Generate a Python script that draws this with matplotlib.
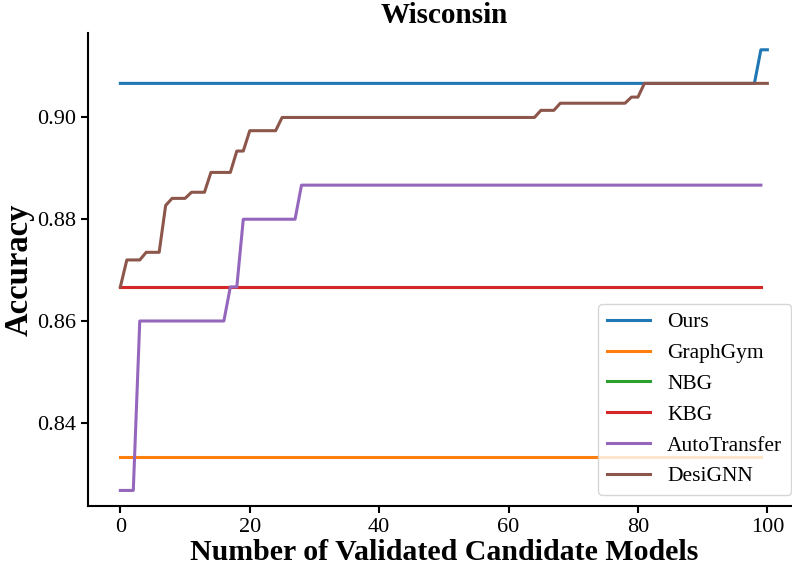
import numpy as np
import matplotlib.pyplot as plt

plt.rcParams["font.family"] = "serif"
plt.rcParams["font.serif"] = ["Liberation Serif", "DejaVu Serif"]
plt.rcParams["mathtext.fontset"] = "dejavuserif"

# step changes of the running best accuracy: (model index, accuracy)
ours_steps = [(0, 0.9067), (99, 0.9133)]
graphgym_steps = [(0, 0.8333)]
nbg_steps = [(0, 0.8667)]
kbg_steps = [(0, 0.8667)]
autotransfer_steps = [(0, 0.8267), (3, 0.8600), (17, 0.8667), (19, 0.8800), (28, 0.8867)]
designn_steps = [(0, 0.8667), (1, 0.8720), (4, 0.8735), (7, 0.8827), (8, 0.8841),
                 (11, 0.8853), (14, 0.8892), (18, 0.8934), (20, 0.8974), (25, 0.9000),
                 (65, 0.9014), (68, 0.9028), (79, 0.9040), (81, 0.9067)]

n_long = 101   # Ours / DesiGNN run 0..100
n_short = 100  # others run 0..99


def expand(steps, n):
    vals = np.zeros(n)
    for idx, val in steps:
        vals[idx:] = val
    return vals


series = [
    ("Ours", ours_steps, n_long),
    ("GraphGym", graphgym_steps, n_short),
    ("NBG", nbg_steps, n_short),
    ("KBG", kbg_steps, n_short),
    ("AutoTransfer", autotransfer_steps, n_short),
    ("DesiGNN", designn_steps, n_long),
]

fig = plt.figure(figsize=(7.92, 5.71), dpi=100)
W, H = 792, 571
ax = fig.add_axes([88 / W, 65.3 / H, 711.7 / W, 472.7 / H])

for name, steps, n in series:
    ax.plot(np.arange(n), expand(steps, n), label=name, linewidth=2.2)

ax.set_xlim(-5, 105)
ax.set_ylim(0.8237, 0.9166)
ax.set_xticks([0, 20, 40, 60, 80, 100])
ax.set_yticks([0.84, 0.86, 0.88, 0.90])
ax.set_yticklabels(["0.84", "0.86", "0.88", "0.90"])
ax.tick_params(labelsize=16, width=1.5, length=5)
for s in ["top", "right"]:
    ax.spines[s].set_visible(False)
for s in ["left", "bottom"]:
    ax.spines[s].set_linewidth(1.5)

ax.set_xlabel("Number of Validated Candidate Models", fontsize=21.5, fontweight="bold", labelpad=2)
ax.set_ylabel("Accuracy", fontsize=23.5, fontweight="bold", labelpad=2)
ax.set_title("Wisconsin", fontsize=21, fontweight="bold", pad=7)

ax.legend(loc="lower right", fontsize=15.5, borderaxespad=0,
          bbox_to_anchor=((791 - 88) / 711.7, 10.7 / 472.7))

fig.savefig("out.png", dpi=100)
